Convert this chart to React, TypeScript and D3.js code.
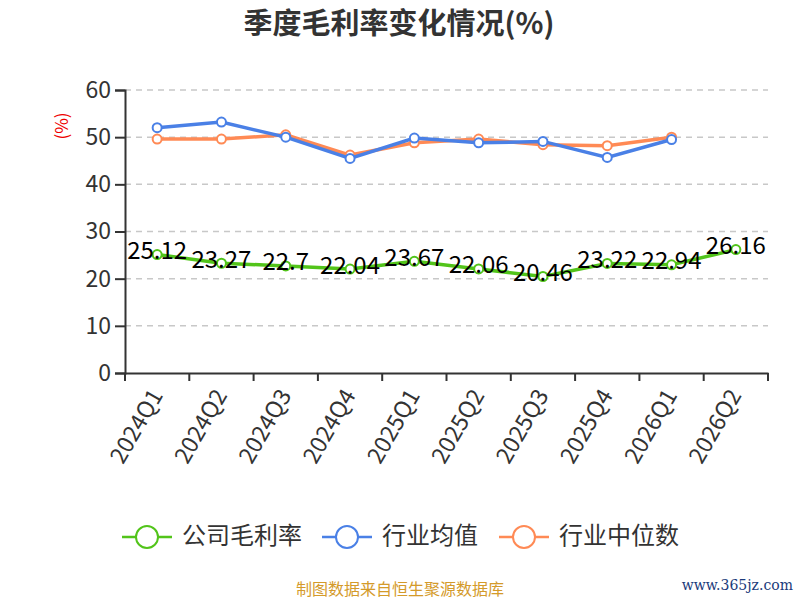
import React, { useEffect, useRef } from 'react';
import * as d3 from 'd3';

const categories = ['2024Q1', '2024Q2', '2024Q3', '2024Q4', '2025Q1', '2025Q2', '2025Q3', '2025Q4', '2026Q1', '2026Q2'];
const companyRate = [25.12, 23.27, 22.7, 22.04, 23.67, 22.06, 20.46, 23.22, 22.94, 26.16];
const industryMean = [52.0, 53.2, 50.0, 45.5, 49.8, 48.8, 49.1, 45.7, 49.5, null];
const industryMedian = [49.6, 49.6, 50.5, 46.2, 48.8, 49.6, 48.4, 48.2, 50.0, null];
const yTicks = [0, 10, 20, 30, 40, 50, 60];

const series = [
  { name: '公司毛利率', values: companyRate, color: '#52c41a', labels: true },
  { name: '行业均值', values: industryMean, color: '#4a80e6', labels: false },
  { name: '行业中位数', values: industryMedian, color: '#ff8a55', labels: false },
];

const FONT = '"Noto Sans CJK SC", "Noto Sans", sans-serif';

export default function App() {
  const svgRef = useRef<SVGSVGElement>(null);

  useEffect(() => {
    if (!svgRef.current) return;
    const svg = d3.select(svgRef.current);
    svg.selectAll('*').remove();

    const margin = { top: 90, right: 32, bottom: 227, left: 125 };
    const width = 800 - margin.left - margin.right;
    const height = 600 - margin.top - margin.bottom;

    const x = d3.scaleBand().domain(categories).range([0, width]);
    const y = d3.scaleLinear().domain([0, 60]).range([height, 0]);

    // Title
    svg.append('text')
      .attr('x', 399)
      .attr('y', 34)
      .attr('text-anchor', 'middle')
      .attr('font-family', FONT)
      .attr('font-size', '29px')
      .attr('font-weight', 'bold')
      .attr('fill', '#333')
      .text('季度毛利率变化情况(%)');

    const g = svg.append('g')
      .attr('transform', `translate(${margin.left},${margin.top})`);

    // Grid
    g.selectAll('.grid')
      .data(yTicks.filter(d => d > 0))
      .enter()
      .append('line')
      .attr('x1', 0)
      .attr('x2', width)
      .attr('y1', d => y(d))
      .attr('y2', d => y(d))
      .attr('stroke', '#c8c8c8')
      .attr('stroke-width', 1.5)
      .attr('stroke-dasharray', '6,5');

    // Y axis
    const yAxis = g.append('g')
      .call(d3.axisLeft(y).tickValues(yTicks).tickSize(10).tickPadding(4));
    yAxis.select('.domain').attr('stroke', '#333').attr('stroke-width', 2);
    yAxis.selectAll('.tick line').attr('stroke', '#333').attr('stroke-width', 2);
    yAxis.selectAll('.tick text')
      .attr('fill', '#333')
      .attr('font-size', '23px')
      .attr('font-family', FONT);

    // X axis
    const xAxis = g.append('g')
      .attr('transform', `translate(0,${height})`)
      .call(d3.axisBottom(x).tickSize(0).tickFormat(() => ''));
    xAxis.select('.domain').attr('stroke', '#333').attr('stroke-width', 2);

    const boundaries = d3.range(categories.length + 1).map(i => i * x.bandwidth());
    g.selectAll('.xtick')
      .data(boundaries)
      .enter()
      .append('line')
      .attr('x1', d => d)
      .attr('x2', d => d)
      .attr('y1', height)
      .attr('y2', height + 8)
      .attr('stroke', '#333')
      .attr('stroke-width', 2);

    g.selectAll('.xlabel')
      .data(categories)
      .enter()
      .append('text')
      .attr('transform', d => `translate(${(x(d) ?? 0) + x.bandwidth() / 2 + 1},${height + 19}) rotate(-60)`)
      .attr('text-anchor', 'end')
      .attr('dominant-baseline', 'middle')
      .attr('font-family', FONT)
      .attr('font-size', '23px')
      .attr('fill', '#333')
      .text(d => d);

    // Y label
    svg.append('text')
      .attr('transform', 'translate(63,126) rotate(-90)')
      .attr('text-anchor', 'middle')
      .attr('dominant-baseline', 'middle')
      .attr('font-family', FONT)
      .attr('font-size', '17px')
      .attr('fill', '#e00')
      .text('(%)');

    const cx = (i: number) => (x(categories[i]) ?? 0) + x.bandwidth() / 2;

    // Lines, drawn back to front
    [...series].reverse().forEach(s => {
      const pts = s.values
        .map((v, i) => ({ v, i }))
        .filter(p => p.v !== null) as { v: number; i: number }[];
      const line = d3.line<{ v: number; i: number }>()
        .x(p => cx(p.i))
        .y(p => y(p.v));
      g.append('path')
        .datum(pts)
        .attr('d', line)
        .attr('fill', 'none')
        .attr('stroke', s.color)
        .attr('stroke-width', 3.5);
      g.selectAll(null)
        .data(pts)
        .enter()
        .append('circle')
        .attr('cx', p => cx(p.i))
        .attr('cy', p => y(p.v))
        .attr('r', 4.5)
        .attr('fill', '#fff')
        .attr('stroke', s.color)
        .attr('stroke-width', 2);
      if (s.labels) {
        g.selectAll(null)
          .data(pts)
          .enter()
          .append('text')
          .attr('x', p => cx(p.i))
          .attr('y', p => y(p.v) - 2)
          .attr('text-anchor', 'middle')
          .attr('dominant-baseline', 'middle')
          .attr('font-family', FONT)
          .attr('font-size', '24px')
          .attr('fill', '#000')
          .text(p => String(p.v));
      }
    });

    // Legend
    const legendX = [122, 322, 499];
    const legend = svg.append('g').attr('transform', 'translate(0,537)');
    series.forEach((s, i) => {
      const lg = legend.append('g').attr('transform', `translate(${legendX[i]},0)`);
      lg.append('line')
        .attr('x1', 0)
        .attr('x2', 50)
        .attr('stroke', s.color)
        .attr('stroke-width', 2.5);
      lg.append('circle')
        .attr('cx', 25)
        .attr('r', 11)
        .attr('fill', '#fff')
        .attr('stroke', s.color)
        .attr('stroke-width', 2);
      lg.append('text')
        .attr('x', 60)
        .attr('dominant-baseline', 'middle')
        .attr('font-family', FONT)
        .attr('font-size', '24px')
        .attr('fill', '#333')
        .text(s.name);
    });

    // Footer
    svg.append('text')
      .attr('x', 400)
      .attr('y', 595)
      .attr('text-anchor', 'middle')
      .attr('font-family', FONT)
      .attr('font-size', '16px')
      .attr('fill', '#d49a2a')
      .text('制图数据来自恒生聚源数据库');

    svg.append('text')
      .attr('x', 793)
      .attr('y', 590)
      .attr('text-anchor', 'end')
      .attr('font-family', '"DejaVu Serif", serif')
      .attr('font-size', '14px')
      .attr('fill', '#1a3a7a')
      .text('www.365jz.com');
  }, []);

  return (
    <svg
      ref={svgRef}
      width={800}
      height={600}
      style={{ position: 'absolute', left: 0, top: 0, background: '#fff' }}
    />
  );
}
